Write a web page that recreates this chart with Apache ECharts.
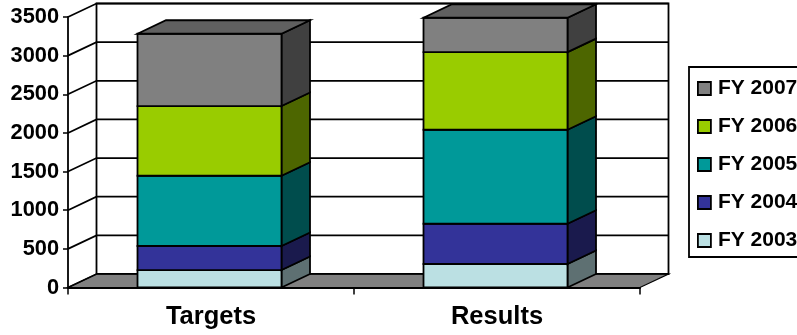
<!DOCTYPE html>
<html>
<head>
<meta charset="utf-8">
<style>html,body{margin:0;padding:0;background:#fff}#chart{width:797px;height:335px}</style>
<script src="https://cdn.jsdelivr.net/npm/echarts@6/dist/echarts.min.js"></script>
</head>
<body>
<div id="chart"></div>
<script>
// Funding per fiscal year, stacked bottom to top.
const categories = ['Targets', 'Results'];
const fy2003 = [226, 304];
const fy2004 = [311, 521];
const fy2005 = [909, 1216];
const fy2006 = [902, 1005];
const fy2007 = [935, 444];
const yTicks = [0, 500, 1000, 1500, 2000, 2500, 3000, 3500];

const layers = [
  { name: 'FY 2003', values: fy2003, front: '#BBE0E3', side: '#5E7072' },
  { name: 'FY 2004', values: fy2004, front: '#333399', side: '#1A1A4D' },
  { name: 'FY 2005', values: fy2005, front: '#009999', side: '#004D4D' },
  { name: 'FY 2006', values: fy2006, front: '#99CC00', side: '#4D6600' },
  { name: 'FY 2007', values: fy2007, front: '#808080', side: '#404040' }
];
const topFace = '#606060';
const floorFill = '#808080';

// Oblique projection offset of the back plane, in pixels.
const DX = 28.5, DY = 13.5;
const BAR_RATIO = 0.5035, BAR_SHIFT = -1.5;
const LINE = { stroke: '#000', lineWidth: 1.8 };
const FONT = '"Liberation Sans", Arial, sans-serif';

const chart = echarts.init(document.getElementById('chart'), null, { renderer: 'canvas' });

function wallsItem(params, api) {
  const c = params.coordSys;
  const y0 = api.coord([0, 0])[1];
  const yTop = api.coord([0, 3500])[1];
  const xL = c.x, xR = c.x + c.width;
  return {
    type: 'group',
    children: [
      { type: 'rect', shape: { x: xL + DX, y: yTop - DY, width: c.width, height: y0 - yTop }, style: { fill: '#fff', stroke: '#000', lineWidth: 1.8 } },
      { type: 'polygon', shape: { points: [[xL, y0], [xL + DX, y0 - DY], [xR + DX, y0 - DY], [xR, y0]] }, style: { fill: floorFill, stroke: '#000', lineWidth: 1.2 } }
    ]
  };
}

function gridItem(params, api) {
  const c = params.coordSys;
  const y = api.coord([0, api.value(1)])[1];
  return {
    type: 'polyline',
    shape: { points: [[c.x, y], [c.x + DX, y - DY], [c.x + c.width + DX, y - DY]] },
    style: { fill: null, stroke: '#000', lineWidth: 1.7 }
  };
}

function makeCuboidSeries(layer, idx) {
  const bases = categories.map((_, i) => layers.slice(0, idx).reduce((s, l) => s + l.values[i], 0));
  const isTop = idx === layers.length - 1;
  return {
    name: layer.name,
    type: 'custom',
    coordinateSystem: 'cartesian2d',
    silent: true,
    z: 5 + idx,
    itemStyle: { color: layer.front },
    data: layer.values.map((v, i) => [i, v, bases[i]]),
    encode: { x: 0, y: 1 },
    renderItem(params, api) {
      const i = api.value(0);
      const v = api.value(1), base = api.value(2);
      const w = api.size([1, 0])[0] * BAR_RATIO;
      const cx = api.coord([i, 0])[0] + BAR_SHIFT;
      const x0 = cx - w / 2, x1 = cx + w / 2;
      const yB = api.coord([i, base])[1];
      const yT = api.coord([i, base + v])[1];
      const faces = [
        { type: 'polygon', shape: { points: [[x1, yB], [x1 + DX, yB - DY], [x1 + DX, yT - DY], [x1, yT]] }, style: Object.assign({ fill: layer.side }, LINE) },
        { type: 'rect', shape: { x: x0, y: yT, width: w, height: yB - yT }, style: Object.assign({ fill: layer.front }, LINE) }
      ];
      if (isTop) {
        faces.push({ type: 'polygon', shape: { points: [[x0, yT], [x0 + DX, yT - DY], [x1 + DX, yT - DY], [x1, yT]] }, style: Object.assign({ fill: topFace }, LINE) });
      }
      return { type: 'group', children: faces };
    }
  };
}

chart.setOption({
  animation: false,
  backgroundColor: '#fff',
  grid: { left: 68, top: 17, width: 572, height: 270.5 },
  legend: {
    orient: 'vertical',
    left: 689,
    top: 67,
    padding: [10, 40, 5, 8],
    itemWidth: 13,
    itemHeight: 13,
    itemGap: 15,
    icon: 'rect',
    selectedMode: false,
    backgroundColor: '#fff',
    borderColor: '#000',
    borderWidth: 1.8,
    itemStyle: { borderColor: '#000', borderWidth: 1.8 },
    textStyle: { fontFamily: FONT, fontWeight: 'bold', fontSize: 21, color: '#000', padding: [0, 0, 0, 2], lineHeight: 23 },
    data: layers.map(l => l.name).reverse()
  },
  xAxis: {
    type: 'category',
    data: categories,
    axisLine: { lineStyle: { color: '#000', width: 2 } },
    axisTick: { show: true, length: 7, lineStyle: { color: '#000', width: 1.5 } },
    axisLabel: { margin: 16, fontFamily: FONT, fontWeight: 'bold', fontSize: 25.5, color: '#000' },
    z: 20
  },
  yAxis: {
    type: 'value',
    min: 0,
    max: 3500,
    interval: 500,
    splitLine: { show: false },
    axisLine: { show: true, lineStyle: { color: '#000', width: 1.8 } },
    axisTick: { show: true, length: 5, lineStyle: { color: '#000', width: 1.5 } },
    axisLabel: { margin: 9, fontFamily: FONT, fontWeight: 'bold', fontSize: 21.8, color: '#000', formatter: v => String(v) },
    z: 20
  },
  series: [
    { type: 'custom', silent: true, z: 1, data: [[0, 0]], renderItem: wallsItem },
    { type: 'custom', silent: true, z: 2, data: yTicks.map(t => [0, t]), encode: { x: 0, y: 1 }, renderItem: gridItem }
  ].concat(layers.map(makeCuboidSeries))
});
</script>
</body>
</html>
